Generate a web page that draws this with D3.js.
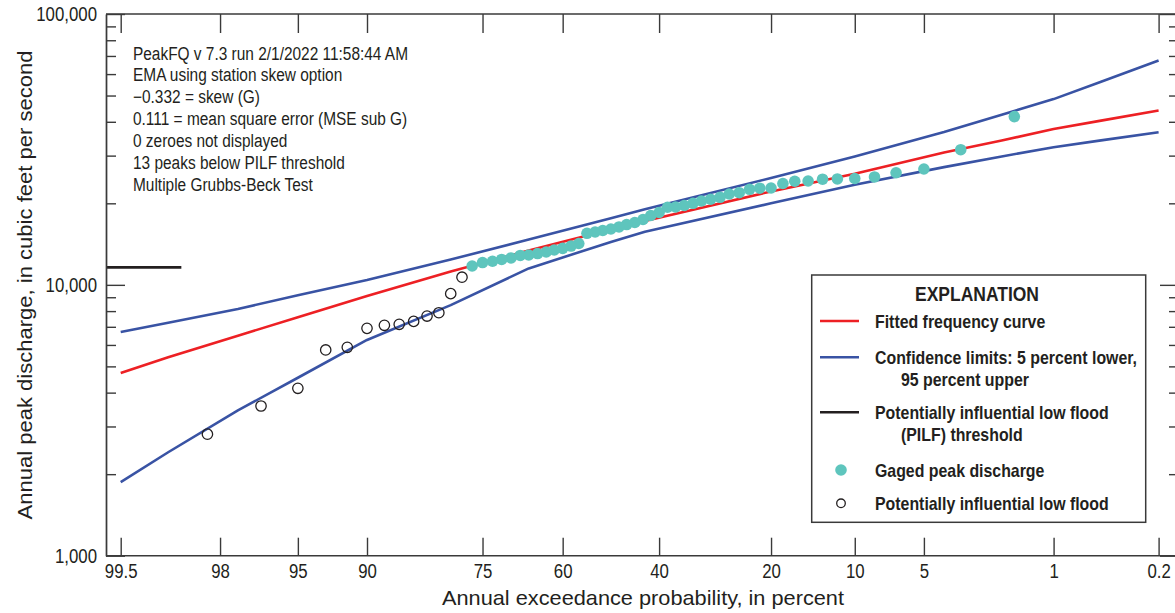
<!DOCTYPE html>
<html>
<head>
<meta charset="utf-8">
<title>Annual peak discharge frequency</title>
<style>
body { margin: 0; background: #fff; }
svg text { font-family: 'Liberation Sans', Arial, sans-serif; fill: #231f20; }
.tick line, .domain { stroke: #3a3a3a; stroke-width: 1.4; }
</style>
</head>
<body>
<svg id="chart"></svg>
<script src="https://cdnjs.cloudflare.com/ajax/libs/d3/7.8.5/d3.min.js"></script>
<script>
// probabilities (exceedance, percent) where the curves are given
var curveProb = [99.5, 99, 97.5, 95, 90, 80, 66.7, 50, 42.9, 20, 10, 4, 2, 1, 0.5, 0.2];
var fitted  = [4730, 5400, 6490, 7590, 9100, 11200, 13400, 16000, 17200, 22130, 25700, 30800, 34100, 37600, 40400, 44000];
var upper95 = [6700, 7250, 8150, 9150, 10420, 12400, 14700, 17600, 19000, 24800, 29800, 36700, 42500, 48500, 56200, 67400];
var lower5  = [1870, 2410, 3440, 4540, 6260, 8420, 11500, 14400, 15700, 20000, 23400, 27200, 29800, 32200, 34150, 36600];

// gaged peaks, plotted at their exceedance probability
var gagedProb = [1.7, 3.3, 5.0, 6.7, 8.3, 10.0, 11.7, 13.3, 15.0, 16.7, 18.3, 20.0, 21.7, 23.3, 25.0, 26.7,
  28.3, 30.0, 31.7, 33.3, 35.0, 36.7, 38.3, 40.0, 41.7, 43.3, 45.0, 46.7, 48.3, 50.0, 51.7, 53.3, 55.0,
  56.7, 58.3, 60.0, 61.7, 63.3, 65.0, 66.7, 68.3, 70.0, 71.7, 73.3, 75.0, 76.7];
var gagedPeak = [41800, 31550, 26780, 25930, 25020, 24700, 24600, 24550, 24180, 24130, 23670, 22780, 22740,
  22530, 21890, 21650, 21050, 20700, 20400, 20000, 19630, 19380, 19340, 18500, 18030, 17430, 16990, 16700,
  16360, 16080, 15870, 15670, 15500, 14210, 13910, 13640, 13450, 13220, 13050, 12890, 12840, 12570, 12410,
  12220, 12090, 11740];

// potentially influential low floods
var pilfProb = [78.3, 80.0, 81.7, 83.3, 85.0, 86.7, 88.3, 90.0, 91.7, 93.3, 95.0, 96.7, 98.3];
var pilfPeak = [10670, 9280, 7890, 7670, 7330, 7150, 7090, 6910, 5880, 5750, 4150, 3570, 2810];
var pilfThreshold = 11600;
var pilfThresholdEnd = 98.8;

var probTicks = [99.5, 98, 95, 90, 75, 60, 40, 20, 10, 5, 1, 0.2];
var probLabels = ['99.5', '98', '95', '90', '75', '60', '40', '20', '10', '5', '1', '0.2'];
var majorTicks = [1000, 10000, 100000];
var majorLabels = ['1,000', '10,000', '100,000'];
var minorTicks = [2000, 3000, 4000, 5000, 6000, 7000, 8000, 9000,
  20000, 30000, 40000, 50000, 60000, 70000, 80000, 90000];

var notes = [
  'PeakFQ v 7.3 run 2/1/2022 11:58:44 AM',
  'EMA using station skew option',
  '\u22120.332 = skew (G)',
  '0.111 = mean square error (MSE sub G)',
  '0 zeroes not displayed',
  '13 peaks below PILF threshold',
  'Multiple Grubbs-Beck Test'
];

var width = 1175, height = 613;
var plotLeft = 106, plotRight = 1179, plotTop = 14, plotBottom = 555.7;
var red = '#ed2024', blue = '#3953a4', teal = '#5ec5bd';
var condense = 0.84; // the original uses a condensed face

// inverse standard normal (Acklam)
function qnorm(p) {
  var a = [-39.69683028665376, 220.9460984245205, -275.9285104469687, 138.3577518672690, -30.66479806614716, 2.506628277459239];
  var b = [-54.47609879822406, 161.5858368580409, -155.6989798598866, 66.80131188771972, -13.28068155288572];
  var c = [-0.007784894002430293, -0.3223964580411365, -2.400758277161838, -2.549732539343734, 4.374664141464968, 2.938163982698783];
  var d = [0.007784695709041462, 0.3224671290700398, 2.445134137142996, 3.754408661907416];
  var q, r;
  if (p < 0.02425) {
    q = Math.sqrt(-2 * Math.log(p));
    return (((((c[0]*q+c[1])*q+c[2])*q+c[3])*q+c[4])*q+c[5]) / ((((d[0]*q+d[1])*q+d[2])*q+d[3])*q+1);
  }
  if (p > 1 - 0.02425) {
    q = Math.sqrt(-2 * Math.log(1 - p));
    return -(((((c[0]*q+c[1])*q+c[2])*q+c[3])*q+c[4])*q+c[5]) / ((((d[0]*q+d[1])*q+d[2])*q+d[3])*q+1);
  }
  q = p - 0.5; r = q * q;
  return (((((a[0]*r+a[1])*r+a[2])*r+a[3])*r+a[4])*r+a[5])*q / (((((b[0]*r+b[1])*r+b[2])*r+b[3])*r+b[4])*r+1);
}
function z(pct) { return qnorm(1 - pct / 100); }

// squeeze text horizontally so a normal-width font looks condensed
function squeeze(sel, k) {
  sel.each(function() {
    var len = this.getComputedTextLength();
    if (len > 0) d3.select(this).attr('textLength', len * k).attr('lengthAdjust', 'spacingAndGlyphs');
  });
}

var svg = d3.select('#chart').attr('width', width).attr('height', height);

var xScale = d3.scaleLinear().domain([z(99.5), z(0.2)]).range([120.7, 1158.6]);
var yScale = d3.scaleLog().domain([1000, 100000]).range([plotBottom, plotTop]);
function px(p) { return xScale(z(p)); }

// curves
var line = d3.line()
  .x(function(d) { return px(d[0]); })
  .y(function(d) { return yScale(d[1]); });
function pairs(vals) { return curveProb.map(function(p, i) { return [p, vals[i]]; }); }

[[lower5, blue], [upper95, blue], [fitted, red]].forEach(function(c) {
  svg.append('path').datum(pairs(c[0]))
    .attr('fill', 'none').attr('stroke', c[1]).attr('stroke-width', 2.6)
    .attr('stroke-linejoin', 'round').attr('d', line);
});

// PILF threshold
svg.append('line')
  .attr('x1', plotLeft).attr('x2', px(pilfThresholdEnd))
  .attr('y1', yScale(pilfThreshold)).attr('y2', yScale(pilfThreshold))
  .attr('stroke', '#231f20').attr('stroke-width', 2.6);

// points
svg.append('g').selectAll('circle').data(gagedProb).enter().append('circle')
  .attr('cx', function(d) { return px(d); })
  .attr('cy', function(d, i) { return yScale(gagedPeak[i]); })
  .attr('r', 5.8).attr('fill', teal);
svg.append('g').selectAll('circle').data(pilfProb).enter().append('circle')
  .attr('cx', function(d) { return px(d); })
  .attr('cy', function(d, i) { return yScale(pilfPeak[i]); })
  .attr('r', 5.2).attr('fill', 'none').attr('stroke', '#231f20').attr('stroke-width', 1.3);

// axes: ticks point inward on all four sides
svg.append('g').attr('transform', 'translate(0,' + plotBottom + ')')
  .call(d3.axisBottom(xScale).tickValues(probTicks.map(z)).tickSize(-18).tickSizeOuter(0).tickPadding(8)
    .tickFormat(function(d, i) { return probLabels[i]; }))
  .call(function(g) {
    g.select('.domain').attr('d', 'M' + plotLeft + ',0H' + plotRight);
    g.selectAll('text').attr('font-size', 20).attr('font-family', null).attr('fill', '#231f20');
    squeeze(g.selectAll('text'), condense);
  });
svg.append('g').attr('transform', 'translate(0,' + plotTop + ')')
  .call(d3.axisTop(xScale).tickValues(probTicks.map(z)).tickSize(-19).tickSizeOuter(0).tickFormat(''))
  .call(function(g) { g.select('.domain').attr('d', 'M' + plotLeft + ',0H' + plotRight); });

svg.append('g').attr('transform', 'translate(' + plotLeft + ',0)')
  .call(d3.axisLeft(yScale).tickValues(minorTicks).tickSize(-10).tickSizeOuter(0).tickFormat(''));
svg.append('g').attr('transform', 'translate(' + plotLeft + ',0)')
  .call(d3.axisLeft(yScale).tickValues(majorTicks).tickSize(-19).tickSizeOuter(0).tickPadding(9)
    .tickFormat(function(d, i) { return majorLabels[i]; }))
  .call(function(g) {
    g.selectAll('text').attr('font-size', 20).attr('font-family', null).attr('fill', '#231f20');
    squeeze(g.selectAll('text'), condense);
  });
svg.append('g').attr('transform', 'translate(' + plotRight + ',0)')
  .call(d3.axisRight(yScale).tickValues(minorTicks).tickSize(-10).tickSizeOuter(0).tickFormat(''));
svg.append('g').attr('transform', 'translate(' + plotRight + ',0)')
  .call(d3.axisRight(yScale).tickValues(majorTicks).tickSize(-19).tickSizeOuter(0).tickFormat(''));

// axis titles
var xt = svg.append('text').attr('x', 643).attr('y', 605).attr('text-anchor', 'middle')
  .attr('font-size', 21).text('Annual exceedance probability, in percent');
xt.attr('textLength', 402).attr('lengthAdjust', 'spacingAndGlyphs');
var yt = svg.append('text').attr('transform', 'translate(32,285) rotate(-90)').attr('text-anchor', 'middle')
  .attr('font-size', 21).text('Annual peak discharge, in cubic feet per second');
yt.attr('textLength', 469).attr('lengthAdjust', 'spacingAndGlyphs');

// run notes
var nt = svg.append('g').selectAll('text').data(notes).enter().append('text')
  .attr('x', 133).attr('y', function(d, i) { return 59.5 + i * 21.95; })
  .attr('font-size', 18).text(function(d) { return d; });
var noteK = 275 / nt.node().getComputedTextLength();
squeeze(nt, noteK);

// explanation box
var lg = svg.append('g');
lg.append('rect').attr('x', 811.7).attr('y', 275).attr('width', 334).attr('height', 247.3)
  .attr('fill', '#fff').attr('stroke', '#3a3a3a').attr('stroke-width', 1.5);
var head = lg.append('text').attr('x', 977).attr('y', 300.5).attr('text-anchor', 'middle')
  .attr('font-size', 20.5).attr('font-weight', 'bold').text('EXPLANATION');

var items = [
  { y: 321, kind: 'line', color: red, lines: ['Fitted frequency curve'] },
  { y: 357.3, kind: 'line', color: blue, lines: ['Confidence limits: 5 percent lower,', '95 percent upper'] },
  { y: 412.3, kind: 'line', color: '#231f20', lines: ['Potentially influential low flood', '(PILF) threshold'] },
  { y: 470, kind: 'dot', lines: ['Gaged peak discharge'] },
  { y: 503.3, kind: 'ring', lines: ['Potentially influential low flood'] }
];
items.forEach(function(it) {
  if (it.kind === 'line') {
    lg.append('line').attr('x1', 820).attr('x2', 859).attr('y1', it.y).attr('y2', it.y)
      .attr('stroke', it.color).attr('stroke-width', 2.6);
  } else if (it.kind === 'dot') {
    lg.append('circle').attr('cx', 841).attr('cy', it.y).attr('r', 5.8).attr('fill', teal);
  } else {
    lg.append('circle').attr('cx', 841).attr('cy', it.y).attr('r', 4.3)
      .attr('fill', 'none').attr('stroke', '#231f20').attr('stroke-width', 1.3);
  }
  it.lines.forEach(function(t, j) {
    lg.append('text').attr('class', 'lgtext').attr('x', j === 0 ? 875 : 901).attr('y', it.y + 6.5 + j * 22)
      .attr('font-size', 18.5).attr('font-weight', 'bold').text(t);
  });
});
var lt = lg.selectAll('.lgtext');
var lgK = 262 / lt.filter(function(d, i) { return i === 1; }).node().getComputedTextLength();
squeeze(lt, lgK);
head.attr('textLength', 124).attr('lengthAdjust', 'spacingAndGlyphs');
</script>
</body>
</html>
